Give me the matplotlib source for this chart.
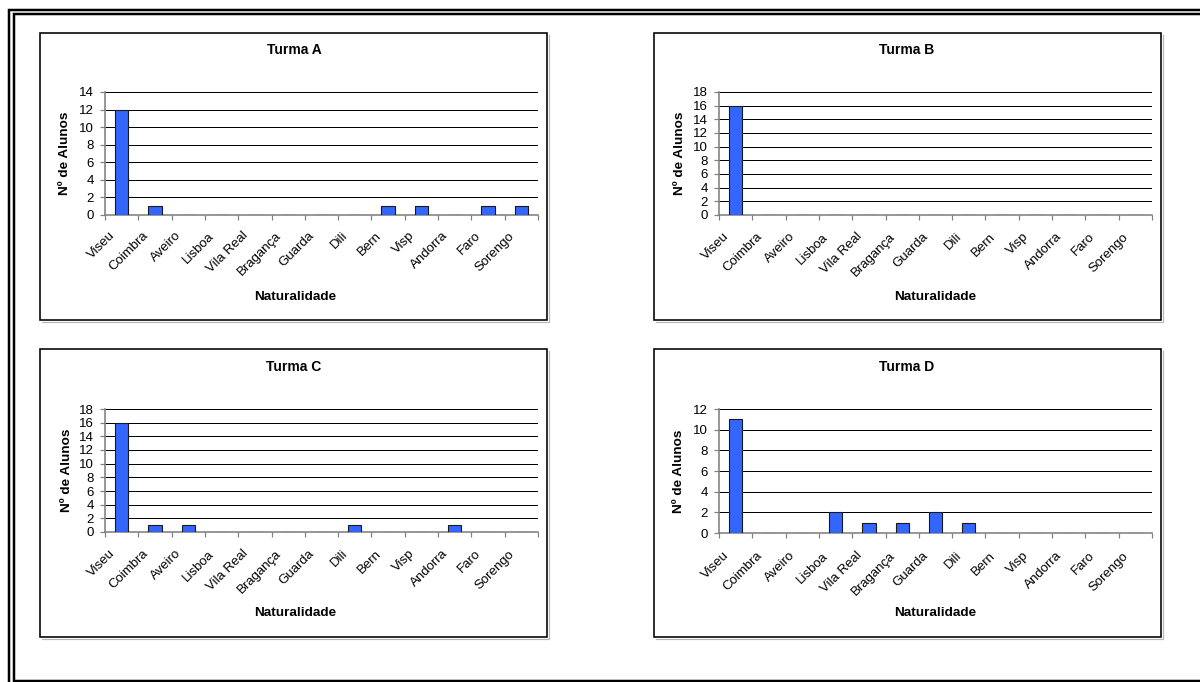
import matplotlib
matplotlib.use('Agg')
import matplotlib.pyplot as plt
import matplotlib.transforms as mtrans
from matplotlib.patches import Rectangle

plt.rcParams['font.family'] = ['Liberation Sans', 'DejaVu Sans']

# ---------------- data ----------------
categories = ['Viseu', 'Coimbra', 'Aveiro', 'Lisboa', 'Vila Real', 'Bragança',
              'Guarda', 'Dili', 'Bern', 'Visp', 'Andorra', 'Faro', 'Sorengo']
turma_a = [12, 1, 0, 0, 0, 0, 0, 0, 1, 1, 0, 1, 1]
turma_b = [16, 0, 0, 0, 0, 0, 0, 0, 0, 0, 0, 0, 0]
turma_c = [16, 1, 1, 0, 0, 0, 0, 1, 0, 0, 1, 0, 0]
turma_d = [11, 0, 0, 2, 1, 1, 2, 1, 0, 0, 0, 0, 0]
titles = ['Turma A', 'Turma B', 'Turma C', 'Turma D']
y_max = [14, 18, 18, 12]
x_title = 'Naturalidade'
y_title = 'Nº de Alunos'

W, H = 1200, 682
fig = plt.figure(figsize=(W / 100, H / 100), dpi=100)
fig.patch.set_facecolor('white')

# overlay in pixel coords for frames
bg = fig.add_axes([0, 0, 1, 1])
bg.set_xlim(0, W)
bg.set_ylim(H, 0)
bg.axis('off')
PX = 0.72  # points per pixel

# outer double border (cut at right edge)
bg.plot([8.5, 8.5, W], [H, 9.5, 9.5], color='black', lw=2.5 * PX, solid_joinstyle='miter')
bg.plot([W, 13.5, 13.5, W], [14, 14, 681, 681], color='black', lw=2.5 * PX, solid_joinstyle='miter')

# panel boxes: (left, top, right, bottom) in pixels
boxes = [(40, 33, 547, 320), (654, 33, 1161, 320),
         (40, 349, 547, 637), (654, 349, 1161, 637)]
for (l, t, r, b) in boxes:
    bg.plot([l + 2, r + 1.5, r + 1.5], [b + 1.5, b + 1.5, t + 2],
            color='#b8b8b8', lw=1.2 * PX)
    bg.add_patch(Rectangle((l, t), r - l, b - t, fill=False,
                           edgecolor='black', lw=1.6 * PX))

# axes rectangles (left, top, right, bottom) in pixels
axes_px = [(105, 92, 538, 215), (719, 92, 1152, 215),
           (105, 409, 538, 532), (719, 409, 1152, 533)]
title_px = [(294, 50), (907, 50), (294, 367), (907, 367)]
xlab_px = [(295, 297), (935, 297), (295, 613), (935, 613)]
ylab_px = [65, 680, 67, 679]
label_drop = [19, 20, 20, 21]   # px from axis to label anchor
label_shift = [-9, -9, -9, -9]

series = [turma_a, turma_b, turma_c, turma_d]
grey = '#808080'
centers = [i + 0.5 for i in range(len(categories))]

for k, vals in enumerate(series):
    l, t, r, b = axes_px[k]
    ax = fig.add_axes([l / W, 1 - b / H, (r - l) / W, (b - t) / H])
    ax.patch.set_alpha(0)
    ax.bar(centers, vals, width=0.4, color='#3366FF', edgecolor='#1a1a1a',
           linewidth=0.8, zorder=3)
    ax.set_xlim(0, len(categories))
    ax.set_ylim(0, y_max[k])
    ax.set_yticks(range(0, y_max[k] + 1, 2))
    ax.yaxis.grid(True, color='black', linewidth=1.0 * PX)
    ax.set_axisbelow(True)
    for s in ['top', 'right']:
        ax.spines[s].set_visible(False)
    for s in ['left', 'bottom']:
        ax.spines[s].set_color(grey)
        ax.spines[s].set_linewidth(1.6 * PX)
    ax.set_xticks(range(len(categories) + 1), minor=True)
    ax.set_xticks(centers)
    ax.set_xticklabels(categories, rotation=45, ha='right', va='center',
                       rotation_mode='anchor', fontsize=9.5, color='black')
    ax.tick_params(axis='x', which='minor', length=5 * PX, width=1.2 * PX,
                   color=grey, direction='out')
    ax.tick_params(axis='x', which='major', length=0, pad=label_drop[k] * PX)
    ax.tick_params(axis='y', length=5 * PX, width=1.2 * PX, color=grey,
                   labelsize=9.5, pad=6 * PX)
    off = mtrans.ScaledTranslation(label_shift[k] / 100, 0, fig.dpi_scale_trans)
    for lab in ax.get_xticklabels():
        lab.set_transform(lab.get_transform() + off)

    ah = b - t
    aw = r - l
    tx, ty = title_px[k]
    ax.set_title(titles[k], x=(tx - l) / aw, y=(b - ty) / ah, pad=0,
                 fontsize=10, fontweight='bold', va='center', ha='center')
    ax.set_xlabel(x_title, fontsize=9.7, fontweight='bold', va='center')
    xx, xy = xlab_px[k]
    ax.xaxis.set_label_coords((xx - l) / aw, (b - xy) / ah)
    ax.set_ylabel(y_title, fontsize=9.7, fontweight='bold', va='center')
    ax.yaxis.set_label_coords((ylab_px[k] - l) / aw, 0.5)

fig.savefig('out.png', dpi=100, facecolor='white')
